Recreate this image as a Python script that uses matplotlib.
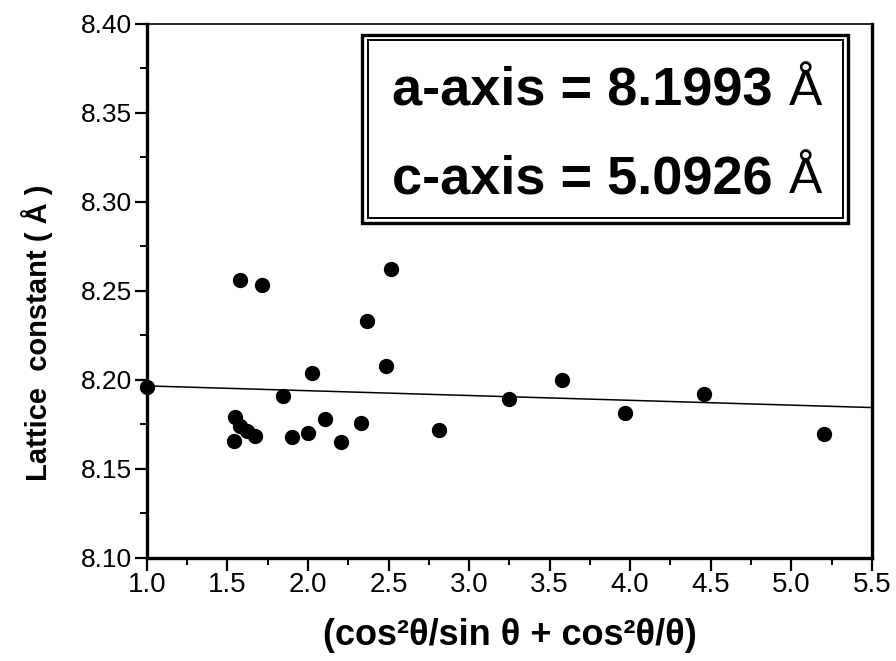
import numpy as np
from matplotlib import pyplot as plt
from matplotlib import font_manager
from matplotlib.patches import Rectangle
from matplotlib.ticker import MultipleLocator

# data
x_val = [1.00, 1.577, 1.712, 2.513, 2.368, 2.484, 2.026, 1.842,
         1.546, 1.577, 1.623, 1.670, 1.540, 1.902, 2.001, 2.105,
         2.202, 2.326, 2.813, 3.249, 3.578, 3.967, 4.456, 5.202]
y_val = [8.1960, 8.2562, 8.2534, 8.2624, 8.2328, 8.2079, 8.2038, 8.1912,
         8.1790, 8.1738, 8.1713, 8.1687, 8.1657, 8.1678, 8.1701, 8.1781,
         8.1650, 8.1757, 8.1717, 8.1893, 8.2000, 8.1813, 8.1918, 8.1698]

# linear fit shown in the plot (intercept = a-axis value)
intercept = 8.1993
slope = -0.0027
x_fit = [1.0, 5.5]

x_ticks = [1.0, 1.5, 2.0, 2.5, 3.0, 3.5, 4.0, 4.5, 5.0, 5.5]
y_ticks = [8.10, 8.15, 8.20, 8.25, 8.30, 8.35, 8.40]

a_text = 'a-axis = 8.1993'
c_text = 'c-axis = 5.0926'

installed = set(f.name for f in font_manager.fontManager.ttflist)
narrow = 'Liberation Sans Narrow' if 'Liberation Sans Narrow' in installed else 'Liberation Sans'
plt.rcParams['font.family'] = ['Liberation Sans', 'DejaVu Sans']

fig = plt.figure(figsize=(8.96, 6.61), dpi=100)
ax = fig.add_axes([0.164, 0.156, 0.809, 0.808])

ax.scatter(x_val, y_val, s=100, color='black', zorder=3, clip_on=False)
y_fit = [intercept + slope * v for v in x_fit]
ax.plot(x_fit, y_fit, color='black', lw=1.1)

ax.set_xlim(1.0, 5.5)
ax.set_ylim(8.10, 8.40)
ax.set_xticks(x_ticks)
ax.set_yticks(y_ticks)
ax.set_xticklabels([f'{v:.1f}' for v in x_ticks], fontsize=20, family=narrow)
ax.set_yticklabels([f'{v:.2f}' for v in y_ticks], fontsize=19)
ax.xaxis.set_minor_locator(MultipleLocator(0.25))
ax.yaxis.set_minor_locator(MultipleLocator(0.025))
ax.tick_params(which='major', direction='out', length=9, width=1.6)
ax.tick_params(axis='x', which='major', pad=1)
ax.tick_params(axis='y', which='major', pad=2)
ax.tick_params(which='minor', direction='out', length=5, width=1.4)

for side in ['left', 'bottom', 'right']:
    ax.spines[side].set_linewidth(2.4)
ax.spines['top'].set_linewidth(1.2)

ax.set_xlabel('(cos²θ/sin θ + cos²θ/θ)', fontsize=26, fontweight='bold')
ax.xaxis.set_label_coords(0.5, -0.112)
ax.set_ylabel('Lattice  constant ( Å )', fontsize=21, fontweight='bold')
ax.yaxis.set_label_coords(-0.13, 0.421)

# double framed text box
ax.add_patch(Rectangle((0.2966, 0.627), 0.670, 0.352, transform=ax.transAxes,
                       fill=False, lw=2.4, color='black'))
ax.add_patch(Rectangle((0.305, 0.637), 0.655, 0.333, transform=ax.transAxes,
                       fill=False, lw=1.4, color='black'))

ax.text(0.338, 0.848, a_text, transform=ax.transAxes, fontsize=39,
        fontweight='bold', ha='left', va='baseline')
ax.text(0.886, 0.848, 'Å', transform=ax.transAxes, fontsize=36,
        family=narrow, ha='left', va='baseline')
ax.text(0.338, 0.683, c_text, transform=ax.transAxes, fontsize=39,
        fontweight='bold', ha='left', va='baseline')
ax.text(0.886, 0.683, 'Å', transform=ax.transAxes, fontsize=36,
        family=narrow, ha='left', va='baseline')

plt.savefig('out.png', dpi=100)
